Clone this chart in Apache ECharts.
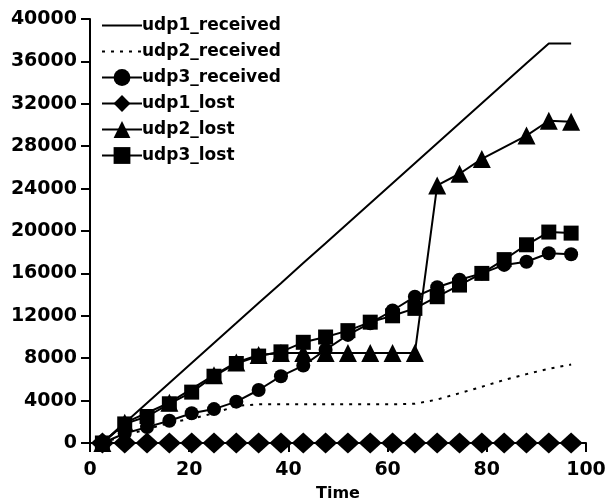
<!DOCTYPE html>
<html>
<head>
<meta charset="utf-8">
<script src="https://cdn.jsdelivr.net/npm/echarts@6/dist/echarts.min.js"></script>
<style>
html, body { margin: 0; padding: 0; background: #fff; }
#plot { width: 610px; height: 503px; }
</style>
</head>
<body>
<div id="plot"></div>
<script>
var times = [2.5, 7, 11.5, 16, 20.5, 25, 29.5, 34, 38.5, 43, 47.5, 52, 56.5, 61, 65.5, 70, 74.5, 79, 83.5, 88, 92.5, 97];
var seriesNames = ['udp1_received', 'udp2_received', 'udp3_received', 'udp1_lost', 'udp2_lost', 'udp3_lost'];
var udp1_received = [0, 1890, 3770, 5660, 7540, 9430, 11310, 13200, 15080, 16970, 18850, 20740, 22620, 24510, 26390, 28280, 30160, 32050, 33930, 35820, 37700, 37700];
var udp2_received = [0, 700, 1300, 1900, 2300, 2800, 3500, 3650, 3650, 3650, 3650, 3650, 3650, 3650, 3700, 4100, 4700, 5300, 5950, 6500, 7000, 7400];
var udp3_received = [0, 900, 1500, 2100, 2800, 3200, 3900, 5000, 6300, 7300, 8800, 10200, 11300, 12500, 13800, 14700, 15400, 16000, 16800, 17100, 17900, 17800];
var udp1_lost = [0, 0, 0, 0, 0, 0, 0, 0, 0, 0, 0, 0, 0, 0, 0, 0, 0, 0, 0, 0, 0, 0];
var udp2_lost = [0, 1900, null, 3800, null, 6400, 7600, 8300, 8500, 8500, 8500, 8500, 8500, 8500, 8500, 24300, 25400, 26800, null, 29000, 30400, 30300];
var udp3_lost = [0, 1800, 2500, 3700, 4800, 6300, 7500, 8200, 8600, 9500, 10000, 10600, 11400, 12000, 12700, 13800, 14900, 16000, 17300, 18700, 19900, 19800];
var xTicks = [0, 20, 40, 60, 80, 100];

function pairs (values) {
	var out = [];
	for (var i = 0; i < times.length; i++)
		out.push([times[i], values[i]]);
	return out;
}

function makeSeries (name, values, symbol, size, dash) {
	return {
		name: name,
		type: 'line',
		data: pairs(values),
		symbol: symbol,
		symbolSize: size,
		showSymbol: symbol != 'none',
		connectNulls: true,
		animation: false,
		itemStyle: { color: '#000' },
		lineStyle: { color: '#000', width: 2, type: dash || 'solid' }
	};
}

// legend entries; the two plain lines get no marker
var legendData = [];
for (var i = 0; i < seriesNames.length; i++) {
	var item = { name: seriesNames[i] };
	if (i < 2)
		item.itemStyle = { color: 'rgba(0,0,0,0)', borderColor: 'rgba(0,0,0,0)', borderWidth: 0 };
	legendData.push(item);
}

var font = 'DejaVu Sans';
var option = {
	backgroundColor: '#fff',
	grid: { left: 90, right: 24, top: 19, bottom: 60, outerBoundsMode: 'none' },
	legend: {
		orient: 'vertical',
		left: 96,
		top: 12,
		itemWidth: 40,
		itemHeight: 21,
		itemGap: 9,
		data: legendData,
		textStyle: { color: '#000', fontSize: 17, fontFamily: font, fontWeight: 'bold', padding: [0, 0, 0, -5] }
	},
	xAxis: {
		type: 'value',
		min: 0,
		max: 100,
		interval: 20,
		name: 'Time',
		nameLocation: 'middle',
		nameGap: 43,
		nameTextStyle: { color: '#000', fontSize: 16, fontFamily: font, fontWeight: 'bold' },
		axisLine: { lineStyle: { color: '#000', width: 2 } },
		axisTick: { length: 9, lineStyle: { color: '#000', width: 2 } },
		axisLabel: { color: '#000', fontSize: 19, fontFamily: font, fontWeight: 'bold', margin: 18,
			formatter: function (v) { return xTicks.indexOf(v) >= 0 ? String(v) : ''; } },
		splitLine: { show: false }
	},
	yAxis: {
		type: 'value',
		min: 0,
		max: 40000,
		interval: 4000,
		axisLine: { show: true, lineStyle: { color: '#000', width: 2 } },
		axisTick: { show: true, length: 9, lineStyle: { color: '#000', width: 2 } },
		axisLabel: { color: '#000', fontSize: 19, fontFamily: font, fontWeight: 'bold', margin: 13,
			formatter: function (v) { return String(v); } },
		splitLine: { show: false }
	},
	series: [
		makeSeries('udp1_received', udp1_received, 'none', 0),
		makeSeries('udp2_received', udp2_received, 'none', 0, [3, 6]),
		makeSeries('udp3_received', udp3_received, 'circle', 14),
		makeSeries('udp1_lost', udp1_lost, 'diamond', [23, 21]),
		makeSeries('udp2_lost', udp2_lost, 'triangle', 18),
		makeSeries('udp3_lost', udp3_lost, 'rect', 15)
	]
};

var myChart = echarts.init(document.getElementById('plot'));
myChart.setOption(option);
</script>
</body>
</html>
